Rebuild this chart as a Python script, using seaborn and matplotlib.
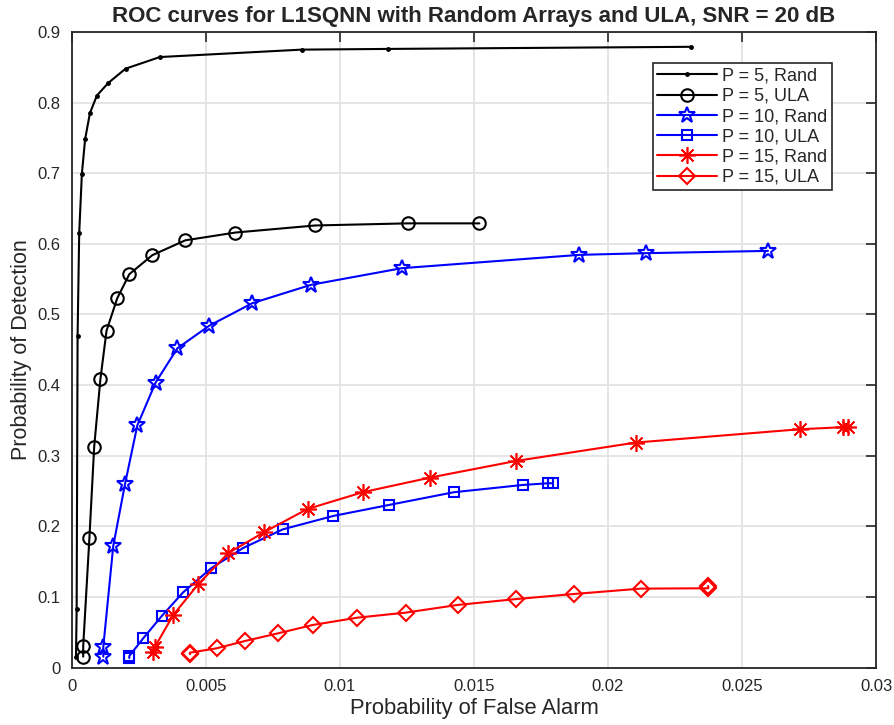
import numpy as np
import pandas as pd
import matplotlib
matplotlib.use("Agg")
import matplotlib.pyplot as plt
import seaborn as sns

# ROC data (Pfa, Pd)
p5_rand_pfa = [0.00015, 0.000175, 0.00021, 0.00027, 0.00037, 0.00049, 0.00067, 0.00093,
               0.00136, 0.0020, 0.00328, 0.00857, 0.0118, 0.0231]
p5_rand_pd = [0.015, 0.083, 0.469, 0.615, 0.699, 0.748, 0.785, 0.810,
              0.828, 0.848, 0.8645, 0.875, 0.876, 0.879]

p5_ula_pfa = [0.00042, 0.00042, 0.00065, 0.00083, 0.00106, 0.00129, 0.00169, 0.00214,
              0.0030, 0.00423, 0.0061, 0.00907, 0.01253, 0.0152]
p5_ula_pd = [0.0155, 0.0306, 0.183, 0.313, 0.408, 0.477, 0.523, 0.557,
             0.584, 0.605, 0.616, 0.626, 0.629, 0.629]

p10_rand_pfa = [0.00117, 0.00117, 0.00154, 0.00198, 0.00244, 0.00312, 0.00393, 0.00512,
                0.00673, 0.00892, 0.0123, 0.01893, 0.02142, 0.02597]
p10_rand_pd = [0.0155, 0.0296, 0.172, 0.260, 0.343, 0.4035, 0.452, 0.484,
               0.516, 0.542, 0.5655, 0.5844, 0.5868, 0.590]

p10_ula_pfa = [0.00214, 0.00214, 0.00266, 0.00335, 0.00415, 0.00519, 0.00639, 0.00788,
               0.00975, 0.01183, 0.01425, 0.01682, 0.01777, 0.01794]
p10_ula_pd = [0.0135, 0.0164, 0.0415, 0.073, 0.1066, 0.1406, 0.1694, 0.1959,
              0.2147, 0.2303, 0.2483, 0.2586, 0.261, 0.261]

p15_rand_pfa = [0.00303, 0.0031, 0.00378, 0.00471, 0.00583, 0.00716, 0.00879, 0.01085,
                0.01336, 0.01657, 0.02103, 0.02716, 0.02878, 0.02897]
p15_rand_pd = [0.0225, 0.0296, 0.0745, 0.118, 0.162, 0.1916, 0.2246, 0.2483,
               0.269, 0.2926, 0.3186, 0.3375, 0.3404, 0.3404]

p15_ula_pfa = [0.0044, 0.0044, 0.0054, 0.00646, 0.0077, 0.00898, 0.01065, 0.01245,
               0.01439, 0.01657, 0.01873, 0.02122, 0.02374, 0.02374]
p15_ula_pd = [0.019, 0.0211, 0.0273, 0.0377, 0.0486, 0.0603, 0.0707, 0.0778,
              0.0887, 0.097, 0.1042, 0.1118, 0.1123, 0.1156]

labels = ["P = 5, Rand", "P = 5, ULA", "P = 10, Rand", "P = 10, ULA", "P = 15, Rand", "P = 15, ULA"]
series = [(p5_rand_pfa, p5_rand_pd), (p5_ula_pfa, p5_ula_pd), (p10_rand_pfa, p10_rand_pd),
          (p10_ula_pfa, p10_ula_pd), (p15_rand_pfa, p15_rand_pd), (p15_ula_pfa, p15_ula_pd)]

colors = ["black", "black", "blue", "blue", "red", "red"]
markers = [".", "o", "*", "s", "asterisk", "D"]
msizes = [4, 9, 12, 7.5, 12, 8]

sns.set_style("whitegrid", {"grid.color": "#e3e3e3", "axes.edgecolor": "#262626"})
plt.rcParams["font.family"] = ["Liberation Sans", "DejaVu Sans"]

fig = plt.figure(figsize=(8.95, 7.25), dpi=100)
ax = fig.add_axes([0.0804, 0.0792, 0.8984, 0.8767])

for i in range(len(series)):
    df = pd.DataFrame({"pfa": series[i][0], "pd": series[i][1]})
    mk = markers[i]
    mew = 1.5
    if mk == "asterisk":
        mk = (8, 2, 0)
        mew = 1.2
    sns.lineplot(data=df, x="pfa", y="pd", sort=False, estimator=None, ax=ax,
                 color=colors[i], marker=mk, markersize=msizes[i], linewidth=1.5,
                 markerfacecolor="none" if mk != "." else colors[i],
                 markeredgecolor=colors[i], markeredgewidth=mew, label=labels[i])

ax.set_xlim(0, 0.03)
ax.set_ylim(0, 0.9)
ax.set_xticks([0, 0.005, 0.01, 0.015, 0.02, 0.025, 0.03])
ax.set_xticklabels(["0", "0.005", "0.01", "0.015", "0.02", "0.025", "0.03"])
ax.set_yticks(np.arange(0, 0.91, 0.1))
ax.set_yticklabels(["0", "0.1", "0.2", "0.3", "0.4", "0.5", "0.6", "0.7", "0.8", "0.9"])
ax.tick_params(direction="in", length=7, width=1.2, top=True, right=True,
               labelsize=12, colors="#262626", pad=8)
ax.grid(True, linewidth=1.3)
for s in ax.spines.values():
    s.set_linewidth(1.3)

ax.set_xlabel("Probability of False Alarm", fontsize=15.8, color="#262626", labelpad=3)
ax.set_ylabel("Probability of Detection", fontsize=15.5, color="#262626", labelpad=4)
ax.set_title("ROC curves for L1SQNN with Random Arrays and ULA, SNR = 20 dB",
             fontsize=16, fontweight="bold", pad=7)

leg = ax.legend(loc="upper right", bbox_to_anchor=(0.945, 0.951), fontsize=13,
                frameon=True, fancybox=False, framealpha=1, edgecolor="#262626",
                handlelength=3.3, borderpad=0.25, labelspacing=0.18, handletextpad=0.3,
                borderaxespad=0)
leg.get_frame().set_linewidth(1.2)

fig.savefig("out.png", dpi=100)
